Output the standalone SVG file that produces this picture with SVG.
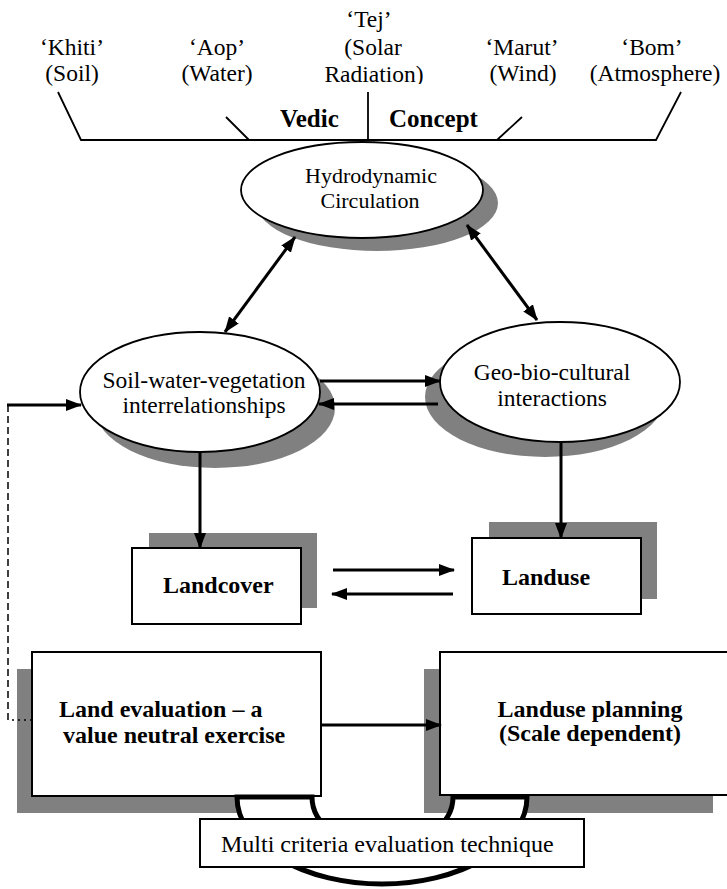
<svg xmlns="http://www.w3.org/2000/svg" width="727" height="889" viewBox="0 0 727 889">
<style>
  text { font-family: "Liberation Serif", "Times New Roman", serif; fill: #000; }
  .t { font-size: 23.5px; }
  .b { font-size: 24px; font-weight: bold; }
  .shadow { fill: #808080; stroke: none; }
  .shape { fill: #fff; stroke: #000; stroke-width: 2; }
  .ell { fill: #fff; stroke: #000; stroke-width: 1.8; }
  .bracket { fill: none; stroke: #000; stroke-width: 1.8; }
  .conn { fill: none; stroke: #000; stroke-width: 3; }
</style>
<defs>
  <marker id="ah" viewBox="0 0 16 12" refX="15" refY="6" markerWidth="16" markerHeight="12" markerUnits="userSpaceOnUse" orient="auto-start-reverse">
    <path d="M0,0 L16,6 L0,12 z" fill="#000"/>
  </marker>
  <clipPath id="clipTej"><rect x="300" y="0" width="150" height="84"/></clipPath>
</defs>
<rect width="727" height="889" fill="#fff"/>

<g id="vedic-concept">
  <text class="t" x="72" y="55" text-anchor="middle">‘Khiti’</text>
  <text class="t" x="72" y="81" text-anchor="middle">(Soil)</text>
  <text class="t" x="217" y="55" text-anchor="middle">‘Aop’</text>
  <text class="t" x="217" y="81" text-anchor="middle">(Water)</text>
  <g clip-path="url(#clipTej)">
    <text class="t" x="369" y="27" text-anchor="middle">‘Tej’</text>
    <text class="t" x="373" y="55" text-anchor="middle">(Solar</text>
    <text class="t" x="374" y="82" text-anchor="middle">Radiation)</text>
  </g>
  <text class="t" x="522" y="55" text-anchor="middle">‘Marut’</text>
  <text class="t" x="523" y="81" text-anchor="middle">(Wind)</text>
  <text class="t" x="652" y="55" text-anchor="middle">‘Bom’</text>
  <text class="t" x="655" y="81" text-anchor="middle">(Atmosphere)</text>
  <path class="bracket" d="M58,92 L81,140 L656,140 L681,92 M226,117 L249,140 M368,92 L368,140 M522,117 L497,140"/>
  <text class="b" x="280" y="127" style="font-size:25px">Vedic</text>
  <text class="b" x="389" y="127" style="font-size:25px">Concept</text>
</g>

<g id="hydrodynamic">
  <ellipse class="shadow" cx="377" cy="203" rx="121" ry="48"/>
  <ellipse class="ell" cx="362" cy="190" rx="121" ry="48"/>
  <text class="t" x="371" y="183" text-anchor="middle" style="font-size:22px">Hydrodynamic</text>
  <text class="t" x="370" y="208" text-anchor="middle" style="font-size:22px">Circulation</text>
</g>

<g id="soil-water">
  <ellipse class="shadow" cx="215" cy="408" rx="120" ry="60"/>
  <ellipse class="ell" cx="200" cy="392" rx="120" ry="60"/>
  <text class="t" x="204" y="388" text-anchor="middle">Soil-water-vegetation</text>
  <text class="t" x="204" y="413" text-anchor="middle">interrelationships</text>
</g>

<g id="geo-bio">
  <ellipse class="shadow" cx="545" cy="397" rx="120" ry="60"/>
  <ellipse class="ell" cx="560" cy="382" rx="120" ry="60"/>
  <text class="t" x="552" y="380" text-anchor="middle">Geo-bio-cultural</text>
  <text class="t" x="552" y="406" text-anchor="middle">interactions</text>
</g>

<g id="landcover">
  <rect class="shadow" x="149" y="533" width="168" height="75"/>
  <rect class="shape" x="132" y="548" width="169" height="76"/>
  <text class="b" x="163" y="593">Landcover</text>
</g>

<g id="landuse">
  <rect class="shadow" x="489" y="522" width="168" height="77"/>
  <rect class="shape" x="472" y="538" width="169" height="76"/>
  <text class="b" x="502" y="585">Landuse</text>
</g>

<g id="land-evaluation">
  <rect class="shadow" x="17" y="669" width="289" height="144"/>
  <rect class="shape" x="32" y="652" width="289" height="144"/>
  <text class="b" x="59" y="717">Land evaluation – a</text>
  <text class="b" x="63" y="743">value neutral exercise</text>
</g>

<g id="landuse-planning">
  <rect class="shadow" x="424" y="669" width="289" height="144"/>
  <rect class="shape" x="440" y="652" width="289" height="143"/>
  <text class="b" x="590" y="717" text-anchor="middle">Landuse planning</text>
  <text class="b" x="590" y="741" text-anchor="middle">(Scale dependent)</text>
</g>

<g id="multi-criteria">
  <path d="M237,797 A145,87 0 0 0 527,797 L453,797 A70,50 0 0 1 312,797 Z" fill="#fff" stroke="#000" stroke-width="5" stroke-linejoin="miter"/>
  <rect class="shape" x="200" y="819" width="384" height="48"/>
  <text class="t" x="221" y="852" style="font-size:24px">Multi criteria evaluation technique</text>
</g>

<g id="connectors">
  <line class="conn" x1="295" y1="237" x2="225" y2="332" marker-start="url(#ah)" marker-end="url(#ah)"/>
  <line class="conn" x1="467" y1="225" x2="537" y2="320" marker-start="url(#ah)" marker-end="url(#ah)"/>
  <line class="conn" x1="320" y1="381" x2="440" y2="381" marker-end="url(#ah)"/>
  <line class="conn" x1="438" y1="404" x2="319" y2="404" marker-end="url(#ah)"/>
  <line class="conn" x1="200" y1="453" x2="200" y2="548" marker-end="url(#ah)"/>
  <line class="conn" x1="561" y1="443" x2="561" y2="538" marker-end="url(#ah)"/>
  <line class="conn" x1="333" y1="570" x2="454" y2="570" marker-end="url(#ah)"/>
  <line class="conn" x1="453" y1="594" x2="332" y2="594" marker-end="url(#ah)"/>
  <line class="conn" x1="321" y1="725" x2="441" y2="725" marker-end="url(#ah)"/>
  <path d="M32,720 L8,720" fill="none" stroke="#000" stroke-width="1.5" stroke-dasharray="2,4"/>
  <path d="M8,720 L8,405" fill="none" stroke="#000" stroke-width="1.5" stroke-dasharray="7,4"/>
  <line class="conn" x1="7" y1="405" x2="81" y2="405" marker-end="url(#ah)"/>
</g>
</svg>
